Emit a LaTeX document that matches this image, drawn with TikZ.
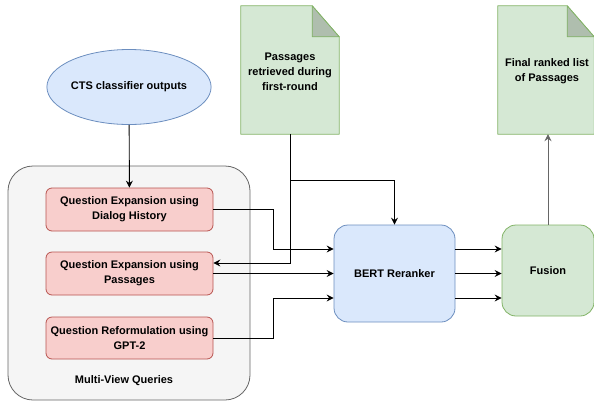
\documentclass[tikz,border=0pt]{standalone}
\usepackage{fontspec}
\setmainfont{Liberation Sans}
\usetikzlibrary{shapes.geometric,arrows.meta,calc}
\definecolor{bluef}{HTML}{DAE8FC}\definecolor{blued}{HTML}{6C8EBF}
\definecolor{redf}{HTML}{F8CECC}\definecolor{redd}{HTML}{B85450}
\definecolor{greenf}{HTML}{D5E8D4}\definecolor{greend}{HTML}{82B366}
\definecolor{grayf}{HTML}{F5F5F5}\definecolor{grayd}{HTML}{666666}
\begin{document}
\begin{tikzpicture}[x=1pt,y=-1pt,
  font=\bfseries\fontsize{11}{15}\selectfont,
  every node/.style={inner sep=0pt, align=center},
  arr/.style={line width=0.9pt, -{Stealth[length=7pt,width=7pt,inset=2.5pt]}},
  qbox/.style={draw=redd, fill=redf, line width=0.8pt, rounded corners=6pt, minimum width=167pt},
  gbox/.style={draw=greend, fill=greenf, line width=0.8pt, rounded corners=14pt},
  docbox/.style={minimum height=128pt}
]
\useasboundingbox (0,0) rectangle (594,405);
% outer group
\node[draw=grayd, fill=grayf, line width=0.8pt, rounded corners=25pt, minimum width=242pt, minimum height=234pt] (mv) at (129,283) {};
\node (mvl) at (124,381) {Multi-View Queries};
% ellipse
\node[ellipse, draw=blued, fill=bluef, line width=0.8pt, minimum width=130pt, minimum height=75pt] (cts) at (129,87) {CTS classifier outputs};
% query boxes
\node[qbox, minimum height=43pt] (b1) at (129.5,209.5) {Question Expansion using\\Dialog History};
\node[qbox, minimum height=43pt] (b2) at (129.5,273.5) {Question Expansion using\\Passages};
\node[qbox, minimum height=42pt] (b3) at (129.5,338) {Question Reformulation using\\GPT-2};
% BERT & fusion
\node[draw=blued, fill=bluef, line width=0.8pt, rounded corners=14pt, minimum width=121pt, minimum height=97pt] (bert) at (394.5,273.5) {BERT Reranker};
\node[gbox, minimum width=92pt, minimum height=91pt] (fus) at (548,270.5) {Fusion};
% documents
\node[docbox, minimum width=98pt] (d1) at (290,70) {};
\node[docbox, minimum width=96pt] (d2) at (546,70) {};
\foreach \d in {d1,d2}{
  \draw[draw=greend, fill=greenf, line width=0.8pt, line join=round]
    (\d.north west) -- ($(\d.north east)+(-27,0)$) -- ($(\d.north east)+(0,31)$) -- (\d.south east) -- (\d.south west) -- cycle;
  \draw[draw=greend, fill=greenf!82!black, line width=0.8pt, line join=round]
    ($(\d.north east)+(-27,0)$) -- ($(\d.north east)+(-27,31)$) -- ($(\d.north east)+(0,31)$) -- cycle;
}
\node (d1t) at (290,72) {Passages\\retrieved during\\first-round};
\node (d2t) at (547,71) {Final ranked list\\of Passages};
% connectors
\draw[arr] (cts) -- (b1);
\coordinate (j) at ($(d1.south)+(0,46)$);
\draw[arr] (d1.south) -- (j) -| (bert.north);
\draw[arr] (d1.south) |- ($(b2.east)+(0,-10.5)$);
\draw[arr] (b1.east) -- ++(60,0) |- ($(bert.west)+(0,-24.5)$);
\draw[arr] (b2.east) -- (bert.west);
\draw[arr] (b3.east) -- ++(60,0) |- ($(bert.west)+(0,24.5)$);
\coordinate (o1) at ($(bert.east)+(0,-24.5)$);
\coordinate (o2) at (bert.east);
\coordinate (o3) at ($(bert.east)+(0,24.5)$);
\foreach \o in {o1,o2,o3}{\draw[arr] (\o) -- (\o -| fus.west);}
\draw[arr, draw=grayd] (fus.north) -- (fus.north |- d2.south);
\end{tikzpicture}
\end{document}
